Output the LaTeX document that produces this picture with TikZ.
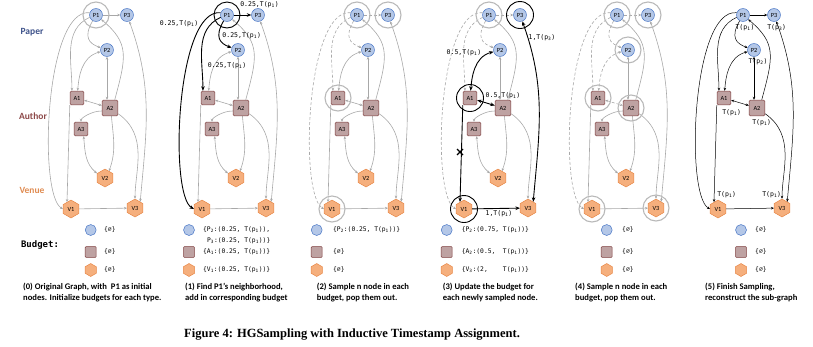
\documentclass[tikz,border=0pt]{standalone}
\usepackage{fontspec}
\setmainfont{Carlito}
\setmonofont{DejaVu Sans Mono}
\newfontfamily\capfont{Liberation Serif}
\usetikzlibrary{arrows.meta,shapes.geometric}
\definecolor{Pfill}{RGB}{180,199,231}
\definecolor{Pdraw}{RGB}{68,114,196}
\definecolor{Afill}{RGB}{190,162,162}
\definecolor{Adraw}{RGB}{125,60,60}
\definecolor{Vfill}{RGB}{245,175,125}
\definecolor{Vdraw}{RGB}{232,135,70}
\definecolor{PaperC}{RGB}{62,82,138}
\definecolor{AuthorC}{RGB}{140,72,72}
\definecolor{VenueC}{RGB}{224,140,82}
\definecolor{EdgeC}{RGB}{168,168,168}
\definecolor{RingC}{RGB}{185,185,185}
\newcommand{\fsz}[1]{\fontsize{#1bp}{#1bp}\selectfont}
\tikzset{
  paper/.style={circle,fill=Pfill,draw=Pdraw,line width=0.5pt,minimum size=13,
                inner sep=0pt,font=\fsz{6.3}},
  author/.style={rectangle,rounded corners=1.5pt,fill=Afill,draw=Adraw,line width=0.5pt,
                 minimum size=14,inner sep=0pt,font=\fsz{6.3}},
  venue/.style={regular polygon,regular polygon sides=6,shape border rotate=30,
                fill=Vfill,draw=Vdraw,line width=0.5pt,minimum size=18,inner sep=0pt,font=\fsz{6.3}},
  gedge/.style={draw=EdgeC,line width=0.6pt,>={Stealth[length=3pt,width=2.6pt]}},
  dedge/.style={gedge,dash pattern=on 3pt off 2pt},
  bedge/.style={draw=black,line width=0.9pt,>={Stealth[length=4.5pt,width=3.6pt]}},
  fedge/.style={draw=black,line width=0.5pt,>={Stealth[length=3pt,width=2.6pt]}},
  gring/.style={draw=RingC,line width=1.1pt},
  bring/.style={draw=black,line width=0.9pt},
  elab/.style={font=\ttfamily\fsz{6.5},inner sep=0pt},
  btext/.style={font=\ttfamily\fsz{6.3},inner sep=0pt,anchor=west},
  captext/.style={font=\bfseries\fsz{8.6},inner sep=0pt,anchor=west},
  rowlab/.style={font=\bfseries\fsz{9.5},inner sep=0pt},
  % one style per edge, swapped per panel
  e13/.style={gedge}, e12/.style={gedge}, e1a1/.style={gedge}, e1v1/.style={gedge},
  e2a1/.style={gedge}, e2a2/.style={gedge}, ea21/.style={gedge}, ea1a2/.style={gedge},
  ea2v3/.style={gedge}, e3v3/.style={gedge}, ea1v1/.style={gedge}, ev1v3/.style={gedge},
}
% nodes kept in every panel
\newcommand{\gnodes}{%
  \node[paper] (P1) at (96,-15) {P1};
  \node[paper] (P3) at (127,-15) {P3};
  \node[paper] (P2) at (107,-50) {P2};
  \node[author] (A1) at (77,-98) {A1};
  \node[author,minimum size=16] (A2) at (110,-108) {A2};
  \node[venue] (V1) at (71,-209) {V1};
  \node[venue] (V3) at (135,-208) {V3};
}
% nodes left out of the sub-graph
\newcommand{\xnodes}{%
  \node[author] (A3) at (81,-129) {A3};
  \node[venue] (V2) at (105,-178) {V2};
  \draw[gedge,->] (A2.200) to[out=180,in=90] (A3);
  \draw[gedge,<->] (A3.-70) to[out=-85,in=140] (V2.150);
  \draw[gedge,->] (A2.-80) to[out=-85,in=70] (V2.60);
}
\newcommand{\gedges}{%
  \draw[e13,->] (P1) -- (P3);
  \draw[e12,->] (P1) to[out=240,in=160,looseness=1.5] (P2);
  \draw[e1a1,->] (P1.200) to[out=205,in=90] (A1.125);
  \draw[e1v1,->] (P1.160) .. controls (45,-8) and (38,-195) .. (V1.west);
  \draw[e2a1,<->] (P2) to[out=195,in=85] (A1);
  \draw[e2a2,<->] (P2.south) -- (P2.south |- A2.north);
  \draw[ea21,->] (A2.60) to[out=75,in=-40,looseness=1.3] (P1);
  \draw[ea1a2,<->] (A1) -- (A2);
  \draw[ea2v3,->] (A2) to[out=-35,in=90] (V3);
  \draw[e3v3,<->] (P3) to[out=-70,in=85] (V3.50);
  \draw[ea1v1,->] (A1.south west) -- (V1.120);
  \draw[ev1v3,->] (V1) -- (V3);
}
% circle x, text x, three budgets
\newcommand{\budget}[5]{%
  \node[paper,minimum size=11] (bP) at (#1,-230) {};
  \node[author,minimum size=11,rounded corners=1pt] (bA) at (#1,-252) {};
  \node[venue,minimum size=13] (bV) at (#1,-270) {};
  \node[btext] (tP) at (#2,-230) {#3};
  \node[btext] (tA) at (#2,-252) {#4};
  \node[btext] (tV) at (#2,-270) {#5};
}
\newcommand{\emp}{\{∅\}}
\newcommand{\sub}[1]{\textsubscript{#1}}

\begin{document}
\begin{tikzpicture}[x=1bp,y=1bp,>={Stealth[length=3pt,width=2.6pt]}]
  \useasboundingbox (0,0) rectangle (813,-346);
  \node[rowlab,text=PaperC] (lpaper) at (32,-32) {Paper};
  \node[rowlab,text=AuthorC] (lauthor) at (33,-116) {Author};
  \node[rowlab,text=VenueC] (lvenue) at (32,-190) {Venue};
  \node[font=\ttfamily\bfseries\fsz{9},inner sep=0pt] (lbudget) at (40,-245) {Budget:};

  % (0) original graph
  \begin{scope}[shift={(0,0)},name prefix=a-]
    \gnodes \xnodes \gedges
    \draw[gring] (P1) circle (13);
    \budget{90.7}{104}{\emp}{\emp}{\emp}
  \end{scope}

  % (1) neighbours of P1
  \begin{scope}[shift={(131,0)},name prefix=b-,
      e13/.style={bedge},e12/.style={bedge},e1a1/.style={bedge},e1v1/.style={bedge}]
    \gnodes \xnodes \gedges
    \draw[bring] (P1) circle (13);
    \node[elab] (l13) at (128.5,-5) {0.25,T(p\sub1)};
    \node[elab] (l1v1) at (48,-24) {0.25,T(p\sub1)};
    \node[elab] (l12) at (110.7,-36) {0.25,T(p\sub1)};
    \node[elab] (l1a1) at (96,-66) {0.25,T(p\sub1)};
    \budget{58}{72}{\{P\sub2:(0.25, T(p\sub1)),}{\{A\sub1:(0.25, T(p\sub1))\}}{\{V\sub1:(0.25, T(p\sub1))\}}
    \node[btext] (tPb) at (75.9,-241) {P\sub3:(0.25, T(p\sub1))\}};
  \end{scope}

  % (2) pop sampled nodes
  \begin{scope}[shift={(261,0)},name prefix=c-,
      e13/.style={dedge},e12/.style={dedge},e1a1/.style={dedge},e1v1/.style={dedge}]
    \gnodes \xnodes \gedges
    \foreach \n in {P1,P3,A1,V1} \draw[gring] (\n) circle (13);
    \budget{55.7}{72}{\{P\sub2:(0.25, T(p\sub1))\}}{\emp}{\emp}
  \end{scope}

  % (3) update budgets
  \begin{scope}[shift={(393,0)},name prefix=d-,
      e13/.style={dedge},e12/.style={dedge},e1a1/.style={dedge},e1v1/.style={dedge},
      e2a1/.style={bedge},ea1a2/.style={bedge},ea1v1/.style={bedge},
      e3v3/.style={bedge},ev1v3/.style={bedge}]
    \gnodes \xnodes \gedges
    \draw[gring] (P1) circle (13);
    \foreach \n in {P3,A1,V1} \draw[bring] (\n) circle (13.5);
    \draw[line width=1.3pt] (64,-149) -- (70,-155) (64,-155) -- (70,-149);
    \node[elab] (l2a1) at (71,-53) {0.5,T(p\sub1)};
    \node[elab] (la1a2) at (110,-96) {0.5,T(p\sub1)};
    \node[elab] (l3v3) at (149,-38) {1,T(p\sub3)};
    \node[elab] (lv1v3) at (106,-214) {1,T(p\sub1)};
    \budget{53.7}{68.7}{\{P\sub2:(0.75, T(p\sub1))\}}{\{A\sub2:(0.5,~ T(p\sub1))\}}{\{V\sub3:(2,~~~~T(p\sub1))\}}
  \end{scope}

  % (4) pop again
  \begin{scope}[shift={(521,0)},name prefix=e-,
      e13/.style={dedge},e12/.style={dedge},e1a1/.style={dedge},e1v1/.style={dedge},
      e2a1/.style={dedge},ea1a2/.style={dedge}]
    \gnodes \xnodes \gedges
    \foreach \n in {P1,P2,P3,A1,A2,V1,V3} \draw[gring] (\n) circle (13);
    \budget{85.7}{101}{\emp}{\emp}{\emp}
  \end{scope}

  % (5) sub-graph
  \begin{scope}[shift={(647,0)},name prefix=f-,gedge/.style={fedge}]
    \gnodes \gedges
    \node[elab] (tP1) at (98,-28) {T(p\sub1)};
    \node[elab] (tP3) at (129.7,-28) {T(p\sub3)};
    \node[elab] (tP2) at (111,-62) {T(p\sub2)};
    \node[elab] (tA1) at (84.7,-112.7) {T(p\sub1)};
    \node[elab] (tA2) at (114.7,-122.7) {T(p\sub1)};
    \node[elab] (tV1) at (79.7,-195) {T(p\sub1)};
    \node[elab] (tV3) at (124.7,-195) {T(p\sub1)};
    \budget{94}{108}{\emp}{\emp}{\emp}
  \end{scope}

  \foreach \i/\x/\la/\lb in {
      0/23/{(0) Original Graph, with~ P1 as initial}/{nodes. Initialize budgets for each type.},
      1/185/{(1) Find P1’s neighborhood,}/{add in corresponding budget},
      2/316.7/{(2) Sample n node in each}/{budget, pop them out.},
      3/442.7/{(3) Update the budget for}/{each newly sampled node.},
      4/575/{(4) Sample n node in each}/{budget, pop them out.},
      5/705/{(5) Finish Sampling,}/{reconstruct the sub-graph}}{
    \node[captext] (capa\i) at (\x,-287) {\la};
    \node[captext] (capb\i) at (\x,-298) {\lb};
  }
  \node[font=\capfont\bfseries\fsz{12.5},inner sep=0pt,anchor=west] (fig) at (184,-335)
    {Figure 4: HGSampling with Inductive Timestamp Assignment.};
\end{tikzpicture}
\end{document}
